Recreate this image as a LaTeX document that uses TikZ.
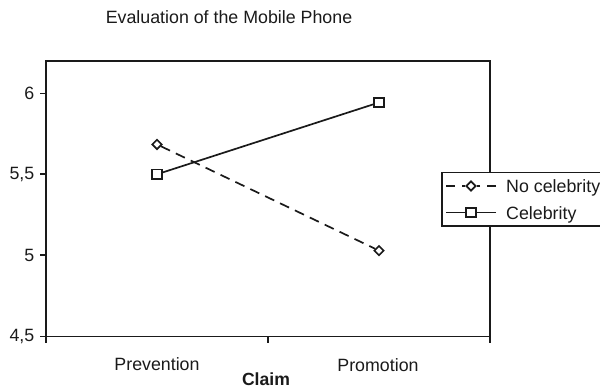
\documentclass[tikz,border=0pt]{standalone}
\usepackage{fontspec}
\setmainfont{Liberation Sans}
\usetikzlibrary{shapes.geometric}
\definecolor{ink}{HTML}{1A1A1A}
\begin{document}
\begin{tikzpicture}[x=1pt,y=-1pt,
  every node/.style={text=ink},
  lbl/.style={font=\fontsize{17.8}{20}\selectfont, inner sep=0pt},
  frame/.style={draw=ink, line width=1.9pt},
  series/.style={draw=ink, line width=1.7pt},
  dashedseries/.style={series, dash pattern=on 10pt off 6.5pt},
  sqmark/.style={draw=ink, line width=1.7pt, fill=white, rectangle,
    minimum size=9.5pt, inner sep=0pt},
  diamark/.style={draw=ink, line width=1.7pt, fill=white, diamond,
    minimum size=10pt, inner sep=0pt},
]
\useasboundingbox (0,0) rectangle (600,389);
\clip (0,0) rectangle (600,389);

% title
\node[lbl, anchor=base] (title) at (229,23.3) {Evaluation of the Mobile Phone};

% plot area: value v sits at y = 255 - (v-5)*161.5
\draw[frame] (46,60.7) rectangle (490,336.5);
\foreach \yy/\txt [count=\i] in {93.5/6, 174.25/{5,5}, 255/5, 336.5/{4,5}} {
  \draw[frame] (40,\yy) -- (46,\yy);
  \node[lbl, anchor=east] (ytick\i) at (34.5,\yy) {\txt};
}
\foreach \xx in {46,268,490}
  \draw[frame] (\xx,336.5) -- (\xx,343);

% category labels
\node[lbl, anchor=base] (catA) at (157,370.5) {Prevention};
\node[lbl, anchor=base] (catB) at (378,371.5) {Promotion};
\node[lbl, anchor=base, font=\fontsize{17.6}{20}\selectfont\bfseries] (axis) at (266,385.5) {Claim};

% series: no celebrity
\node[diamark] (nA) at (157,144.4) {};
\node[diamark] (nB) at (379,250.6) {};
\draw[dashedseries] (nA) -- (nB);

% series: celebrity
\node[sqmark] (cA) at (157,174.25) {};
\node[sqmark] (cB) at (379,102.5) {};
\draw[series] (cA) -- (cB);

% legend
\draw[frame, fill=white, line width=1.6pt] (441.7,172.3) rectangle (640,225.7);
\coordinate (l1a) at (446,186);
\coordinate (l1b) at (496,186);
\node[diamark] (l1m) at (471,186) {};
\draw[dashedseries, dash pattern=on 9pt off 7pt] (l1a) -- (l1m);
\draw[dashedseries, dash pattern=on 9pt off 7pt] (l1b) -- (l1m);
\node[lbl, anchor=base west] (l1t) at (506,192.5) {No celebrity};

\coordinate (l2a) at (446,212.5);
\coordinate (l2b) at (496,212.5);
\node[sqmark] (l2m) at (471,212.5) {};
\draw[series] (l2a) -- (l2m);
\draw[series] (l2b) -- (l2m);
\node[lbl, anchor=base west] (l2t) at (506,219) {Celebrity};
\end{tikzpicture}
\end{document}
